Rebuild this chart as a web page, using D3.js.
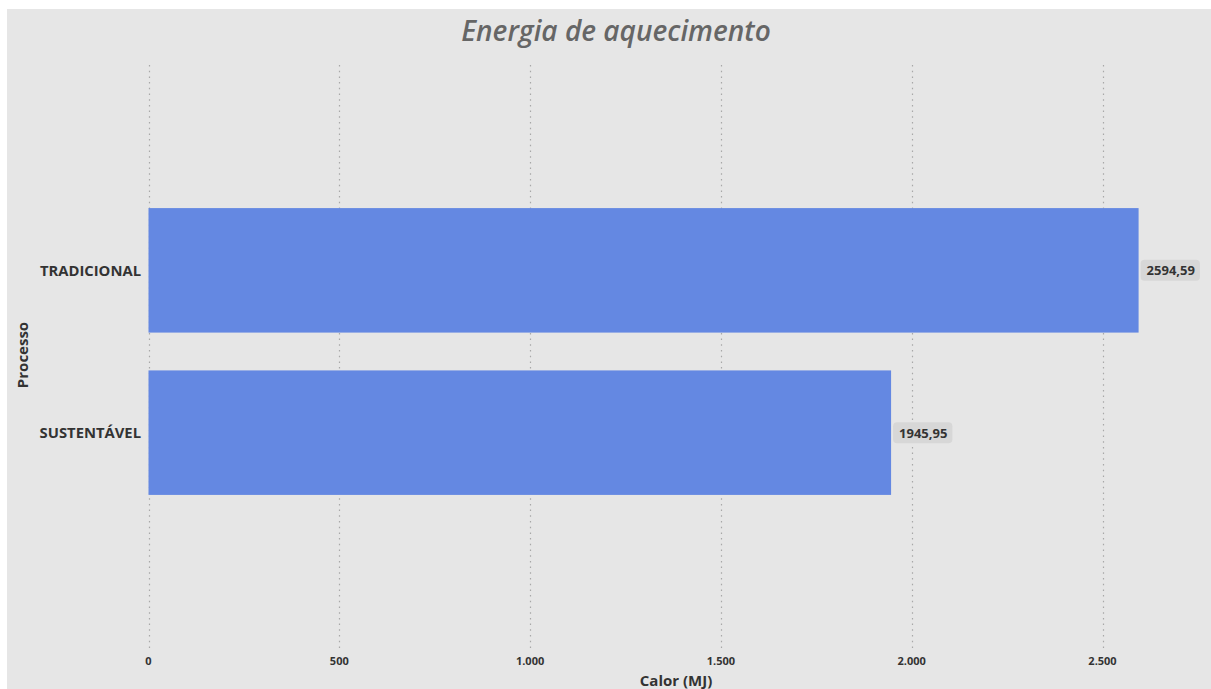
<!DOCTYPE html>
<html>
<head>
<meta charset="utf-8">
<script src="https://cdn.jsdelivr.net/npm/d3@7"></script>
<style>
  html, body { margin: 0; padding: 0; background: #ffffff; }
  svg { display: block; }
</style>
</head>
<body>
<svg id="chart" width="1211" height="689"></svg>
<script>
// Heating energy per process
const categories = ["TRADICIONAL", "SUSTENTÁVEL"];
const values = [2594.59, 1945.95];
const valueLabels = ["2594,59", "1945,95"];
const tickValues = [0, 500, 1000, 1500, 2000, 2500];
const tickLabels = ["0", "500", "1.000", "1.500", "2.000", "2.500"];

const svg = d3.select("#chart");
const W = 1211, H = 689;

// panel background
svg.append("rect")
  .attr("x", 7).attr("y", 9)
  .attr("width", W - 7).attr("height", H - 9)
  .attr("fill", "#e6e6e6");

const x = d3.scaleLinear().domain([0, 2500]).range([148.5, 1102.5]);
const y = d3.scaleBand().domain(categories).range([62, 641]).paddingInner(0.233).paddingOuter(0.9);

// vertical dotted gridlines
svg.append("g").selectAll("line")
  .data(tickValues)
  .join("line")
  .attr("x1", d => Math.round(x(d)) + 0.5)
  .attr("x2", d => Math.round(x(d)) + 0.5)
  .attr("y1", 65).attr("y2", 649)
  .attr("stroke", "#a8a8a8")
  .attr("stroke-width", 1.2)
  .attr("stroke-dasharray", "1.5,4.2");

// x tick labels
svg.append("g").selectAll("text")
  .data(tickValues)
  .join("text")
  .attr("x", d => x(d))
  .attr("y", 665)
  .attr("text-anchor", "middle")
  .attr("font-family", "'Open Sans', sans-serif")
  .attr("font-weight", "bold")
  .attr("font-size", 11)
  .attr("fill", "#333")
  .text((d, i) => tickLabels[i]);

// bars
svg.append("g").selectAll("rect")
  .data(categories)
  .join("rect")
  .attr("x", x(0))
  .attr("y", d => y(d))
  .attr("width", (d, i) => x(values[i]) - x(0))
  .attr("height", y.bandwidth())
  .attr("fill", "#6488e2");

// category labels
svg.append("g").selectAll("text")
  .data(categories)
  .join("text")
  .attr("x", 141)
  .attr("y", d => y(d) + y.bandwidth() / 2 + 5.5)
  .attr("text-anchor", "end")
  .attr("font-family", "'Open Sans', sans-serif")
  .attr("font-weight", "bold")
  .attr("font-size", 14.8)
  .attr("fill", "#333")
  .text(d => d);

// value labels with rounded background
const labels = svg.append("g").selectAll("g")
  .data(categories)
  .join("g")
  .attr("transform", (d, i) => `translate(${x(values[i]) + 2},${y(d) + y.bandwidth() / 2})`);

labels.append("text")
  .attr("x", 6)
  .attr("y", 5)
  .attr("font-family", "'Open Sans', sans-serif")
  .attr("font-weight", "bold")
  .attr("font-size", 13)
  .attr("fill", "#333")
  .text((d, i) => valueLabels[i])
  .each(function () {
    const bb = this.getBBox();
    d3.select(this.parentNode).insert("rect", "text")
      .attr("x", 0)
      .attr("y", -10.5)
      .attr("width", bb.width + 11)
      .attr("height", 21)
      .attr("rx", 4)
      .attr("fill", "#d7d7d7");
  });

// title
svg.append("text")
  .attr("x", 616)
  .attr("y", 41)
  .attr("text-anchor", "middle")
  .attr("font-family", "'Open Sans', sans-serif")
  .attr("font-style", "italic")
  .attr("font-weight", 600)
  .attr("font-size", 28)
  .attr("fill", "#666666")
  .text("Energia de aquecimento");

// axis titles
svg.append("text")
  .attr("x", 676)
  .attr("y", 686)
  .attr("text-anchor", "middle")
  .attr("font-family", "'Open Sans', sans-serif")
  .attr("font-weight", "bold")
  .attr("font-size", 15)
  .attr("fill", "#333")
  .text("Calor (MJ)");

svg.append("text")
  .attr("transform", "translate(28,355) rotate(-90)")
  .attr("text-anchor", "middle")
  .attr("font-family", "'Open Sans', sans-serif")
  .attr("font-weight", "bold")
  .attr("font-size", 15)
  .attr("fill", "#333")
  .text("Processo");
</script>
</body>
</html>
